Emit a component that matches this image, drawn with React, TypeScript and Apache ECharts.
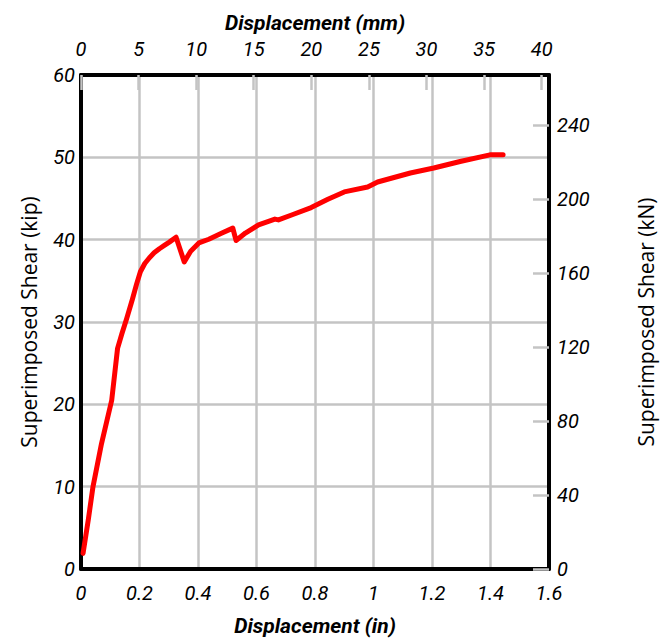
import React, { useEffect, useRef } from "react";
import * as echarts from "echarts";

// Load–displacement record: displacement in inches, superimposed shear in kips
const dispIn = [
  0.007, 0.025, 0.041, 0.07, 0.105, 0.125, 0.14, 0.156, 0.176, 0.19, 0.203,
  0.218, 0.234, 0.25, 0.268, 0.285, 0.302, 0.325, 0.353, 0.375, 0.403, 0.437,
  0.482, 0.519, 0.53, 0.562, 0.607, 0.663, 0.675, 0.72, 0.787, 0.844, 0.9,
  0.98, 1.014, 1.126, 1.206, 1.296, 1.398, 1.443,
];
const shearKip = [
  1.9, 6.0, 10.0, 15.2, 20.5, 26.8, 28.6, 30.4, 32.8, 34.6, 36.1,
  37.1, 37.8, 38.4, 38.9, 39.3, 39.7, 40.3, 37.3, 38.6, 39.6, 40.05,
  40.8, 41.4, 39.9, 40.8, 41.8, 42.5, 42.4, 43.0, 43.9, 44.9, 45.8,
  46.4, 47.0, 48.1, 48.7, 49.5, 50.3, 50.3,
];

// Axis extents and unit conversions
const inMax = 1.6;
const kipMax = 60;
const MM_PER_IN = 25.4;
const KN_PER_KIP = 4.44822;

const NARROW = "Roboto, 'Liberation Sans Narrow', sans-serif";

const tickFont = {
  fontFamily: NARROW,
  fontStyle: "italic" as const,
  fontSize: 20,
  color: "#000",
};
const titleFontItalic = {
  fontFamily: NARROW,
  fontStyle: "italic" as const,
  fontWeight: "bold" as const,
  fontSize: 21,
  color: "#000",
};
const titleFontSide = {
  fontFamily: "'Open Sans', 'Noto Sans', sans-serif",
  fontSize: 21,
  color: "#000",
};

const GRID_GREY = "#c4c4c4";
const BORDER = { show: true, lineStyle: { color: "#000", width: 4 } };

export default function App() {
  const ref = useRef<HTMLDivElement>(null);

  useEffect(() => {
    document.body.style.margin = "0";
    if (!ref.current) return;
    const chart = echarts.init(ref.current, null, { renderer: "svg" });
    const points = dispIn.map((x, i) => [x, shearKip[i]]);

    chart.setOption({
      animation: false,
      backgroundColor: "#fff",
      grid: { left: 81, right: 111, top: 75, bottom: 73, containLabel: false },
      xAxis: [
        {
          type: "value",
          position: "bottom",
          min: 0,
          max: inMax,
          interval: 0.2,
          axisLine: { ...BORDER, onZero: false },
          axisTick: { show: false },
          splitLine: { show: true, lineStyle: { color: GRID_GREY, width: 2.5 } },
          axisLabel: { ...tickFont, margin: 14 },
          name: "Displacement (in)",
          nameLocation: "middle",
          nameGap: 46,
          nameTextStyle: titleFontItalic,
        },
        {
          type: "value",
          position: "top",
          min: 0,
          max: inMax * MM_PER_IN,
          interval: 5,
          axisLine: { ...BORDER, onZero: false },
          axisTick: {
            show: true,
            inside: true,
            length: 15,
            lineStyle: { color: GRID_GREY, width: 2.5 },
          },
          splitLine: { show: false },
          axisLabel: { ...tickFont, margin: 16, showMaxLabel: false },
          name: "Displacement (mm)",
          nameLocation: "middle",
          nameGap: 42,
          nameTextStyle: titleFontItalic,
        },
      ],
      yAxis: [
        {
          type: "value",
          position: "left",
          min: 0,
          max: kipMax,
          interval: 10,
          axisLine: { ...BORDER, onZero: false },
          axisTick: { show: false },
          splitLine: { show: true, lineStyle: { color: GRID_GREY, width: 2.5 } },
          axisLabel: { ...tickFont, margin: 6 },
          name: "Superimposed Shear (kip)",
          nameLocation: "middle",
          nameGap: 42,
          nameTextStyle: titleFontSide,
        },
        {
          type: "value",
          position: "right",
          min: 0,
          max: kipMax * KN_PER_KIP,
          interval: 40,
          axisLine: { ...BORDER, onZero: false },
          axisTick: {
            show: true,
            inside: true,
            length: 16,
            lineStyle: { color: GRID_GREY, width: 2.5 },
          },
          splitLine: { show: false },
          axisLabel: { ...tickFont, margin: 8, showMaxLabel: false },
          name: "Superimposed Shear (kN)",
          nameLocation: "middle",
          nameGap: 86,
          nameTextStyle: titleFontSide,
        },
      ],
      series: [
        {
          type: "line",
          xAxisIndex: 0,
          yAxisIndex: 0,
          data: points,
          showSymbol: false,
          smooth: false,
          z: 1,
          lineStyle: { color: "#ff0000", width: 5, cap: "round", join: "round" },
        },
      ],
    });

    return () => chart.dispose();
  }, []);

  return <div ref={ref} style={{ width: 664, height: 642 }} />;
}
